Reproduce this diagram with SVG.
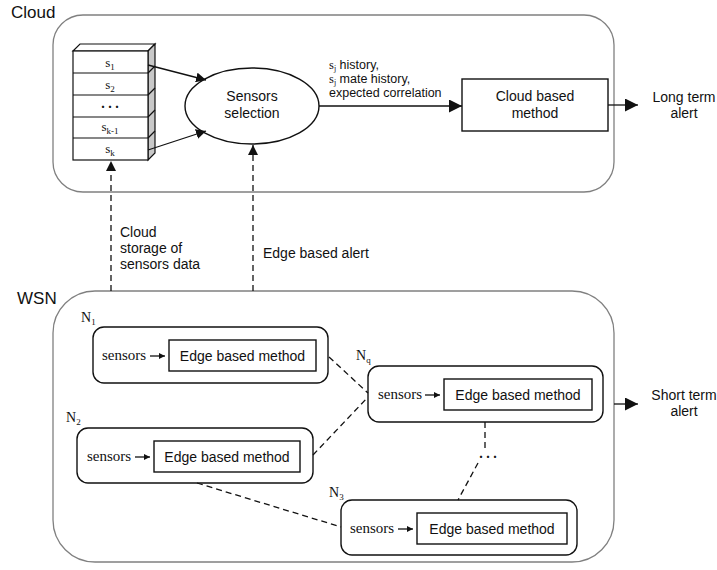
<svg xmlns="http://www.w3.org/2000/svg" width="717" height="570" viewBox="0 0 717 570">
  <defs>
    <marker id="arr" viewBox="0 0 10 10" refX="10" refY="5" markerWidth="10" markerHeight="10" markerUnits="userSpaceOnUse" orient="auto">
      <path d="M0,0 L10,5 L0,10 z" fill="#111"/>
    </marker>
    <marker id="arrBig" viewBox="0 0 10 10" refX="10" refY="5" markerWidth="13" markerHeight="13" markerUnits="userSpaceOnUse" orient="auto">
      <path d="M0,0 L10,5 L0,10 z" fill="#111"/>
    </marker>
    <marker id="arrSmall" viewBox="0 0 10 10" refX="10" refY="5" markerWidth="6" markerHeight="6" markerUnits="userSpaceOnUse" orient="auto">
      <path d="M0,0 L10,5 L0,10 z" fill="#111"/>
    </marker>
  </defs>
  <style>
    .region { fill: none; stroke: #808080; stroke-width: 1.3; }
    .node { fill: #fff; stroke: #111; stroke-width: 1.4; }
    .box { fill: #fff; stroke: #111; stroke-width: 1.4; }
    .sans { font-family: "Liberation Sans", Arial, sans-serif; fill: #111; }
    .serif { font-family: "Liberation Serif", "Times New Roman", serif; fill: #111; }
    .title { font-size: 17px; }
    .lbl { font-size: 14px; }
    .small { font-size: 12.5px; }
    .edge { stroke: #111; stroke-width: 1.3; fill: none; }
    .dash { stroke: #111; stroke-width: 1.3; fill: none; stroke-dasharray: 6 4; }
  </style>
  <rect width="717" height="570" fill="#fff"/>

  <!-- Cloud region -->
  <g id="cloud">
    <rect class="region" x="53" y="15" width="561" height="177" rx="30" ry="30"/>
    <text class="sans title" x="11" y="18">Cloud</text>
  </g>

  <!-- Sensor storage stack -->
  <g id="storage">
    <polygon points="73,51 80,44 155,44 148,51" fill="#fff" stroke="#111" stroke-width="1.2"/>
    <polygon points="148,51 155,44 155,153 148,160" fill="#c8c8c8" stroke="#111" stroke-width="1.2"/>
    <rect x="73" y="51" width="75" height="109" fill="#fff" stroke="#111" stroke-width="1.2"/>
    <g stroke="#111" stroke-width="1.2">
      <line x1="73" y1="73" x2="148" y2="73"/>
      <line x1="73" y1="95" x2="148" y2="95"/>
      <line x1="73" y1="117" x2="148" y2="117"/>
      <line x1="73" y1="138" x2="148" y2="138"/>
      <line x1="148" y1="73" x2="155" y2="66"/>
      <line x1="148" y1="95" x2="155" y2="88"/>
      <line x1="148" y1="117" x2="155" y2="110"/>
      <line x1="148" y1="138" x2="155" y2="131"/>
    </g>
    <g class="serif" font-size="13" text-anchor="middle">
      <text x="110" y="67">s<tspan font-size="9" dy="3">1</tspan></text>
      <text x="110" y="89">s<tspan font-size="9" dy="3">2</tspan></text>
      <text x="110" y="108" font-weight="bold" font-size="14">. . .</text>
      <text x="110" y="131">s<tspan font-size="9" dy="3">k-1</tspan></text>
      <text x="110" y="153">s<tspan font-size="9" dy="3">k</tspan></text>
    </g>
  </g>

  <!-- Sensors selection -->
  <g id="selection">
    <ellipse class="node" cx="252" cy="106" rx="67" ry="38"/>
    <text class="sans lbl" x="252" y="101" text-anchor="middle">Sensors</text>
    <text class="sans lbl" x="252" y="118" text-anchor="middle">selection</text>
  </g>

  <!-- Cloud based method -->
  <g id="cloud-method">
    <rect class="box" x="462" y="79" width="146" height="52"/>
    <text class="sans lbl" x="535" y="101" text-anchor="middle">Cloud based</text>
    <text class="sans lbl" x="535" y="118" text-anchor="middle">method</text>
  </g>

  <g id="long-term">
    <text class="sans lbl" x="684" y="102" text-anchor="middle">Long term</text>
    <text class="sans lbl" x="684" y="118" text-anchor="middle">alert</text>
  </g>

  <!-- WSN region -->
  <g id="wsn">
    <rect class="region" x="53" y="291" width="561" height="271" rx="42" ry="42"/>
    <text class="sans title" x="17" y="304">WSN</text>
  </g>

  <!-- Nodes -->
  <g id="n1">
    <text class="serif" font-size="14" x="81" y="322">N<tspan font-size="9" dy="3">1</tspan></text>
    <rect class="node" x="93" y="327" width="235" height="56" rx="11" ry="11"/>
    <text class="serif" font-size="15" x="102" y="360">sensors</text>
    <line class="edge" x1="150" y1="356" x2="165" y2="356" marker-end="url(#arrSmall)"/>
    <rect class="box" x="169" y="340" width="147" height="31"/>
    <text class="sans lbl" x="242.5" y="361" text-anchor="middle">Edge based method</text>
  </g>

  <g id="nq">
    <text class="serif" font-size="14" x="356" y="360">N<tspan font-size="9" dy="3">q</tspan></text>
    <rect class="node" x="368" y="366" width="235" height="56" rx="11" ry="11"/>
    <text class="serif" font-size="15" x="378" y="399">sensors</text>
    <line class="edge" x1="425" y1="395" x2="440" y2="395" marker-end="url(#arrSmall)"/>
    <rect class="box" x="444" y="379" width="148" height="31"/>
    <text class="sans lbl" x="518" y="400" text-anchor="middle">Edge based method</text>
  </g>

  <g id="n2">
    <text class="serif" font-size="14" x="66" y="422">N<tspan font-size="9" dy="3">2</tspan></text>
    <rect class="node" x="77" y="428" width="236" height="55" rx="11" ry="11"/>
    <text class="serif" font-size="15" x="87" y="461">sensors</text>
    <line class="edge" x1="135" y1="457" x2="150" y2="457" marker-end="url(#arrSmall)"/>
    <rect class="box" x="154" y="441" width="146" height="31"/>
    <text class="sans lbl" x="227" y="462" text-anchor="middle">Edge based method</text>
  </g>

  <g id="n3">
    <text class="serif" font-size="14" x="329" y="497">N<tspan font-size="9" dy="3">3</tspan></text>
    <rect class="node" x="341" y="500" width="236" height="55" rx="11" ry="11"/>
    <text class="serif" font-size="15" x="350" y="533">sensors</text>
    <line class="edge" x1="398" y1="529" x2="413" y2="529" marker-end="url(#arrSmall)"/>
    <rect class="box" x="417" y="513" width="150" height="31"/>
    <text class="sans lbl" x="492" y="534" text-anchor="middle">Edge based method</text>
  </g>

  <g id="short-term">
    <text class="sans lbl" x="684" y="400" text-anchor="middle">Short term</text>
    <text class="sans lbl" x="684" y="416" text-anchor="middle">alert</text>
  </g>

  <!-- Connectors -->
  <g id="connectors">
    <line class="edge" x1="148" y1="65" x2="206" y2="80" marker-end="url(#arr)"/>
    <line class="edge" x1="148" y1="150" x2="206" y2="131" marker-end="url(#arr)"/>
    <line class="edge" x1="319" y1="106" x2="462" y2="106" marker-end="url(#arrBig)"/>
    <line class="edge" x1="608" y1="105" x2="638" y2="105" marker-end="url(#arrBig)"/>
    <line class="edge" x1="614" y1="404" x2="638" y2="404" marker-end="url(#arrBig)"/>

    <line class="dash" x1="111" y1="291" x2="111" y2="161" marker-end="url(#arr)"/>
    <line class="dash" x1="253" y1="291" x2="253" y2="145" marker-end="url(#arr)"/>

    <line class="dash" x1="329" y1="357" x2="368" y2="393"/>
    <line class="dash" x1="313" y1="455" x2="368" y2="397"/>
    <line class="dash" x1="197" y1="483" x2="341" y2="527"/>
    <line class="dash" x1="485" y1="422" x2="485" y2="448"/>
    <line class="dash" x1="478" y1="463" x2="458" y2="500"/>

    <text class="serif" font-size="14" font-weight="bold" x="488" y="458" text-anchor="middle">. . .</text>
  </g>

  <!-- Connector labels -->
  <g id="labels">
    <text class="sans small" x="329" y="69"><tspan class="serif">s<tspan font-size="8" dy="2">j</tspan></tspan><tspan dy="-2"> history,</tspan></text>
    <text class="sans small" x="329" y="83"><tspan class="serif">s<tspan font-size="8" dy="2">j</tspan></tspan><tspan dy="-2"> mate history,</tspan></text>
    <text class="sans small" x="329" y="97">expected correlation</text>

    <text class="sans lbl" x="120" y="237">Cloud</text>
    <text class="sans lbl" x="120" y="253">storage of</text>
    <text class="sans lbl" x="120" y="269">sensors data</text>
    <text class="sans lbl" x="263" y="258">Edge based alert</text>
  </g>
</svg>
